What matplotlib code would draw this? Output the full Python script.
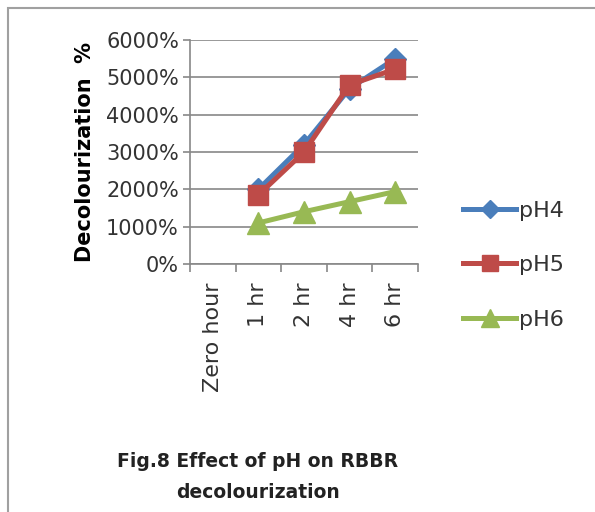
import numpy as np
from matplotlib import pyplot as plt
from matplotlib.patches import Rectangle

categories = ["Zero hour", "1 hr", "2 hr", "4 hr", "6 hr"]
ph4 = [np.nan, 2000, 3200, 4700, 5500]
ph5 = [np.nan, 1850, 3000, 4800, 5220]
ph6 = [np.nan, 1100, 1400, 1670, 1940]
yticks = [0, 1000, 2000, 3000, 4000, 5000, 6000]

plt.rcParams['font.family'] = ['DejaVu Sans']

fig = plt.figure(figsize=(5.95, 5.12), dpi=100)
fig.patches.append(Rectangle((8 / 595, -0.1), 1.2, 1 - 8 / 512 + 0.1, transform=fig.transFigure,
                             fill=False, edgecolor="#a0a0a0", linewidth=1.5))

ax = fig.add_axes([190 / 595, 1 - 264 / 512, 228 / 595, 224 / 512])
x = np.arange(len(categories))

ax.plot(x, ph4, color="#4a7ebb", linewidth=3.6, marker="D", markersize=11, label="pH4")
ax.plot(x, ph5, color="#be4b48", linewidth=3.6, marker="s", markersize=14, label="pH5")
ax.plot(x, ph6, color="#98b954", linewidth=3.6, marker="^", markersize=16, label="pH6")

ax.set_xlim(-0.5, len(categories) - 0.5)
ax.set_ylim(0, 6000)
ax.set_yticks(yticks)
ax.set_yticklabels([f"{v}%" for v in yticks], fontsize=15, color="#333333")
ax.set_xticks(x)
ax.set_xticklabels(categories, rotation=90, fontsize=16, color="#333333")
ax.tick_params(axis="x", length=0, pad=13)
ax.set_xticks(np.arange(-0.5, len(categories)), minor=True)
ax.tick_params(axis="x", which="minor", length=6, color="#888888", width=1.2)
ax.tick_params(axis="y", length=5, color="#888888", width=1.2, pad=3)
ax.grid(axis="y", color="#888888", linewidth=1.2)
ax.set_axisbelow(True)
for s in ["top", "right"]:
    ax.spines[s].set_visible(False)
for s in ["left", "bottom"]:
    ax.spines[s].set_color("#888888")
    ax.spines[s].set_linewidth(1.2)

ax.set_ylabel("Decolourization  %", fontsize=15, fontweight="bold", labelpad=8)

leg = ax.legend(loc="center left", bbox_to_anchor=(1.11, -0.005), frameon=False, fontsize=16,
                labelspacing=1.55, handlelength=2.4, handletextpad=0.1, markerscale=0.85)
for t in leg.get_texts():
    t.set_color("#333333")

fig.text(258 / 595, 1 - 477 / 512, "Fig.8 Effect of pH on RBBR\ndecolourization", ha="center",
         va="center", fontsize=13.5, fontweight="bold", linespacing=1.75, color="#222222")

fig.savefig("out.png", dpi=100)
